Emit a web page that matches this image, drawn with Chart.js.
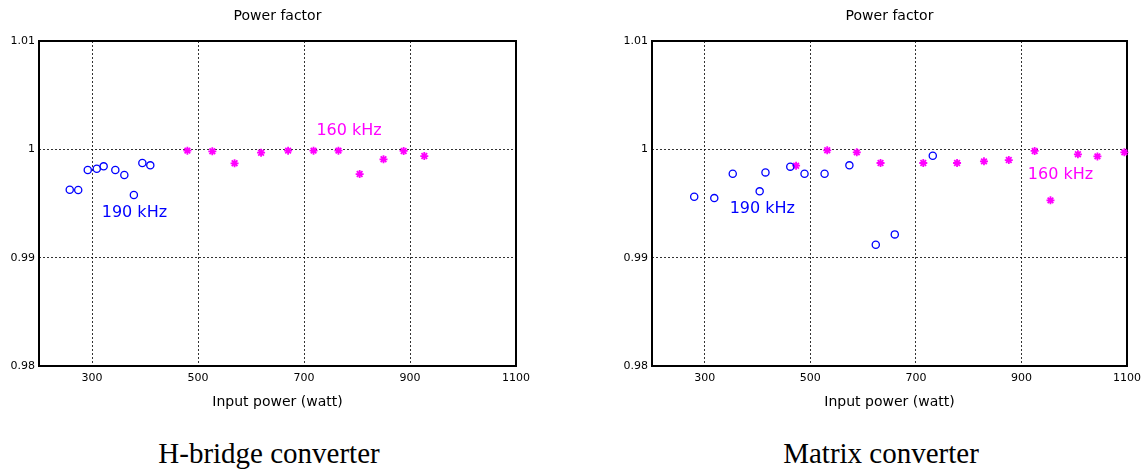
<!DOCTYPE html>
<html>
<head>
<meta charset="utf-8">
<script src="https://cdn.jsdelivr.net/npm/chart.js@4.4.0/dist/chart.umd.min.js"></script>
<style>
body { margin: 0; width: 1147px; height: 470px; overflow: hidden; background: #fff; position: relative; }
canvas { position: absolute; top: 0; }
.caption { position: absolute; top: 439px; font-family: "Liberation Serif", serif; font-size: 29px; line-height: 29px; color: #000; white-space: nowrap; transform: translateX(-50%); }
</style>
</head>
<body>
<canvas id="hbridge" width="536" height="413" style="left:0px"></canvas>
<canvas id="matrix" width="534" height="413" style="left:613px"></canvas>
<div class="caption" style="left:269px">H-bridge converter</div>
<div class="caption" style="left:881px">Matrix converter</div>
<script>
const xTicks = [300, 500, 700, 900, 1100];
const xTickLabels = ['300', '500', '700', '900', '1100'];
const yTicks = [0.98, 0.99, 1, 1.01];
const yTickLabels = ['0.98', '0.99', '1', '1.01'];

// H-bridge converter
const hb190X = [258, 274, 292, 309, 322, 344, 361, 379, 395, 410];
const hb190Y = [0.99627, 0.99624, 0.99809, 0.99821, 0.99843, 0.99809, 0.99763, 0.99578, 0.99874, 0.99852];
const hb160X = [480, 527, 569, 619, 670, 718, 765, 805, 850, 888, 927];
const hb160Y = [0.99988, 0.99982, 0.99871, 0.99969, 0.99988, 0.99988, 0.99988, 0.99772, 0.99908, 0.99985, 0.99938];
const hbNoteText = ['190 kHz', '160 kHz'];
const hbNoteX = [380, 785];
const hbNoteY = [0.99414, 1.00169];

// Matrix converter
const mx190X = [280, 318, 353, 404, 415, 462, 489, 527, 574, 624, 660, 732];
const mx190Y = [0.99563, 0.9955, 0.99775, 0.99612, 0.99787, 0.9984, 0.99775, 0.99775, 0.99852, 0.99119, 0.99215, 0.99941];
const mx160X = [473, 532, 588, 633, 714, 778, 829, 876, 925, 955, 1007, 1044, 1095];
const mx160Y = [0.99849, 0.99991, 0.99972, 0.99874, 0.99874, 0.99874, 0.99889, 0.99901, 0.99985, 0.99529, 0.99954, 0.99935, 0.99972];
const mxNoteText = ['190 kHz', '160 kHz'];
const mxNoteX = [409, 974];
const mxNoteY = [0.99449, 0.9976];

const noteColors = ['#0000ff', '#ff00ff'];

Chart.defaults.font.family = '"DejaVu Sans", sans-serif';
Chart.defaults.color = '#000';

function pairs(xs, ys) {
    return xs.map((x, i) => ({x: x, y: ys[i]}));
}

// black box round the plot area
const frame = {
    id: 'frame',
    beforeDatasetsDraw(chart) {
        const a = chart.chartArea;
        const ctx = chart.ctx;
        ctx.save();
        ctx.strokeStyle = '#000';
        ctx.lineWidth = 2;
        ctx.strokeRect(a.left, a.top, a.right - a.left, a.bottom - a.top);
        ctx.restore();
    }
};

function notes(texts, xs, ys) {
    return {
        id: 'notes',
        afterDatasetsDraw(chart) {
            const ctx = chart.ctx;
            ctx.save();
            ctx.font = '16px "DejaVu Sans", sans-serif';
            ctx.textAlign = 'center';
            ctx.textBaseline = 'middle';
            texts.forEach((t, i) => {
                ctx.fillStyle = noteColors[i];
                ctx.fillText(t, chart.scales.x.getPixelForValue(xs[i]), chart.scales.y.getPixelForValue(ys[i]));
            });
            ctx.restore();
        }
    };
}

function makeChart(id, d190, d160, noteText, noteX, noteY, padRight) {
    const gridStyle = {color: 'rgba(0,0,0,0.8)', lineWidth: 1, drawTicks: false};
    return new Chart(document.getElementById(id), {
        type: 'scatter',
        data: {
            datasets: [{
                data: d190,
                pointStyle: 'circle',
                pointRadius: 3.6,
                borderColor: '#0000ff',
                backgroundColor: 'rgba(0,0,0,0)',
                borderWidth: 1.3,
                clip: false
            }, {
                data: d160,
                pointStyle: 'star',
                pointRadius: 4,
                borderColor: '#ff00ff',
                backgroundColor: '#ff00ff',
                borderWidth: 1.8,
                clip: false
            }]
        },
        options: {
            responsive: false,
            animation: false,
            events: [],
            layout: {padding: {left: 0, right: padRight, top: 0, bottom: 0}},
            plugins: {
                legend: {display: false},
                tooltip: {enabled: false},
                title: {
                    display: true,
                    text: 'Power factor',
                    fullSize: false,
                    color: '#000',
                    font: {size: 14, weight: 'normal'},
                    padding: {top: 8, bottom: 16.2}
                }
            },
            scales: {
                x: {
                    type: 'linear',
                    min: 200,
                    max: 1100,
                    afterBuildTicks: s => { s.ticks = xTicks.map(v => ({value: v})); },
                    ticks: {
                        padding: 6,
                        maxRotation: 0,
                        autoSkip: false,
                        font: {size: 11},
                        color: '#000',
                        callback: (v, i) => xTickLabels[i]
                    },
                    grid: gridStyle,
                    border: {display: false, dash: [2, 2]},
                    title: {
                        display: true,
                        text: 'Input power (watt)',
                        color: '#000',
                        font: {size: 14},
                        padding: {top: 3, bottom: 2}
                    }
                },
                y: {
                    type: 'linear',
                    min: 0.98,
                    max: 1.01,
                    afterBuildTicks: s => { s.ticks = yTicks.map(v => ({value: v})); },
                    afterFit: s => { s.width = 39; },
                    ticks: {
                        padding: 4,
                        font: {size: 11},
                        color: '#000',
                        callback: (v, i) => yTickLabels[i]
                    },
                    grid: gridStyle,
                    border: {display: false, dash: [2, 2]}
                }
            }
        },
        plugins: [frame, notes(noteText, noteX, noteY)]
    });
}

makeChart('hbridge', pairs(hb190X, hb190Y), pairs(hb160X, hb160Y), hbNoteText, hbNoteX, hbNoteY, 20);
makeChart('matrix', pairs(mx190X, mx190Y), pairs(mx160X, mx160Y), mxNoteText, mxNoteX, mxNoteY, 18);
</script>
</body>
</html>
